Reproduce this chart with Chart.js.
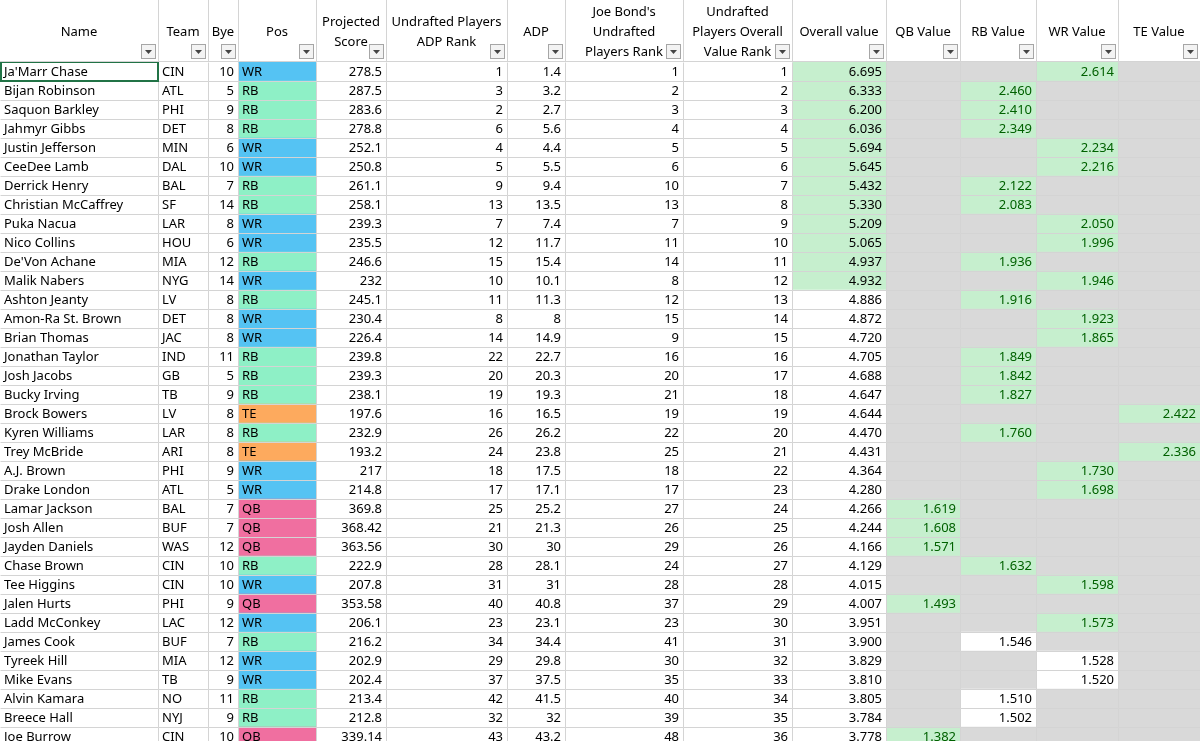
<!DOCTYPE html>
<html><head><meta charset="utf-8">
<script src="https://cdn.jsdelivr.net/npm/chart.js@4"></script>
<style>html,body{margin:0;padding:0;overflow:hidden;background:#fff}#wrap{width:1200px;height:746px}</style>
</head><body><div id="wrap"><canvas id="c"></canvas></div>
<script>
const names=["Ja'Marr Chase","Bijan Robinson","Saquon Barkley","Jahmyr Gibbs","Justin Jefferson","CeeDee Lamb","Derrick Henry","Christian McCaffrey","Puka Nacua","Nico Collins","De'Von Achane","Malik Nabers","Ashton Jeanty","Amon-Ra St. Brown","Brian Thomas","Jonathan Taylor","Josh Jacobs","Bucky Irving","Brock Bowers","Kyren Williams","Trey McBride","A.J. Brown","Drake London","Lamar Jackson","Josh Allen","Jayden Daniels","Chase Brown","Tee Higgins","Jalen Hurts","Ladd McConkey","James Cook","Tyreek Hill","Mike Evans","Alvin Kamara","Breece Hall","Joe Burrow"];
const teams=["CIN","ATL","PHI","DET","MIN","DAL","BAL","SF","LAR","HOU","MIA","NYG","LV","DET","JAC","IND","GB","TB","LV","LAR","ARI","PHI","ATL","BAL","BUF","WAS","CIN","CIN","PHI","LAC","BUF","MIA","TB","NO","NYJ","CIN"];
const byes=[10,5,9,8,6,10,7,14,8,6,12,14,8,8,8,11,5,9,8,8,8,9,5,7,7,12,10,10,9,12,7,12,9,11,9,10];
const positions=["WR","RB","RB","RB","WR","WR","RB","RB","WR","WR","RB","WR","RB","WR","WR","RB","RB","RB","TE","RB","TE","WR","WR","QB","QB","QB","RB","WR","QB","WR","RB","WR","WR","RB","RB","QB"];
const projected=["278.5","287.5","283.6","278.8","252.1","250.8","261.1","258.1","239.3","235.5","246.6","232","245.1","230.4","226.4","239.8","239.3","238.1","197.6","232.9","193.2","217","214.8","369.8","368.42","363.56","222.9","207.8","353.58","206.1","216.2","202.9","202.4","213.4","212.8","339.14"];
const adpRank=[1,3,2,6,4,5,9,13,7,12,15,10,11,8,14,22,20,19,16,26,24,18,17,25,21,30,28,31,40,23,34,29,37,42,32,43];
const adp=["1.4","3.2","2.7","5.6","4.4","5.5","9.4","13.5","7.4","11.7","15.4","10.1","11.3","8","14.9","22.7","20.3","19.3","16.5","26.2","23.8","17.5","17.1","25.2","21.3","30","28.1","31","40.8","23.1","34.4","29.8","37.5","41.5","32","43.2"];
const joeRank=[1,2,3,4,5,6,10,13,7,11,14,8,12,15,9,16,20,21,19,22,25,18,17,27,26,29,24,28,37,23,41,30,35,40,39,48];
const valueRank=[1,2,3,4,5,6,7,8,9,10,11,12,13,14,15,16,17,18,19,20,21,22,23,24,25,26,27,28,29,30,31,32,33,34,35,36];
const overall=["6.695","6.333","6.200","6.036","5.694","5.645","5.432","5.330","5.209","5.065","4.937","4.932","4.886","4.872","4.720","4.705","4.688","4.647","4.644","4.470","4.431","4.364","4.280","4.266","4.244","4.166","4.129","4.015","4.007","3.951","3.900","3.829","3.810","3.805","3.784","3.778"];
const posValue=["2.614","2.460","2.410","2.349","2.234","2.216","2.122","2.083","2.050","1.996","1.936","1.946","1.916","1.923","1.865","1.849","1.842","1.827","2.422","1.760","2.336","1.730","1.698","1.619","1.608","1.571","1.632","1.598","1.493","1.573","1.546","1.528","1.520","1.510","1.502","1.382"];
const overallTop=[1,1,1,1,1,1,1,1,1,1,1,1,0,0,0,0,0,0,0,0,0,0,0,0,0,0,0,0,0,0,0,0,0,0,0,0];
const valueTop=[1,1,1,1,1,1,1,1,1,1,1,1,1,1,1,1,1,1,1,1,1,1,1,1,1,1,1,1,1,1,0,0,0,0,0,1];
const headers=[["Name"],["Team"],["Bye"],["Pos"],["Projected","Score"],["Undrafted Players","ADP Rank"],["ADP"],["Joe Bond's","Undrafted","Players Rank"],["Undrafted","Players Overall","Value Rank"],["Overall value"],["QB Value"],["RB Value"],["WR Value"],["TE Value"]];

// layout
const colWidths=[158,50,30,78,70,121,58,118,109,94,74,76,82,82];
const align=['left','left','right','left','right','right','right','right','right','right','right','right','right','right'];
const posCol={QB:10,RB:11,WR:12,TE:13};
const posColor={WR:'#55c3f3',RB:'#8ef0c6',TE:'#fdaa5e',QB:'#f06fa0'};
const GREEN='#c6efce', GREY='#d9d9d9';

function cellText(c,i){
  switch(c){case 0:return names[i];case 1:return teams[i];case 2:return String(byes[i]);case 3:return positions[i];
  case 4:return projected[i];case 5:return String(adpRank[i]);case 6:return adp[i];case 7:return String(joeRank[i]);
  case 8:return String(valueRank[i]);case 9:return overall[i];}
  return posCol[positions[i]]===c?posValue[i]:'';
}
function cellBg(c,i){
  if(c===3)return posColor[positions[i]];
  if(c===9)return overallTop[i]?GREEN:'#ffffff';
  if(c>=10){ if(posCol[positions[i]]!==c)return GREY; return valueTop[i]?GREEN:'#ffffff';}
  return '#ffffff';
}
function cellColor(c,i){ if(c>=10&&valueTop[i])return '#006100'; return '#000'; }

const datasets=colWidths.map((w,c)=>({data:names.map(()=>w),backgroundColor:ctx=>cellBg(c,ctx.dataIndex),borderWidth:0,barPercentage:1,categoryPercentage:1}));

const FONT='13px "Noto Sans"';
const tablePlugin={id:'table',afterDatasetsDraw(chart){
  const ctx=chart.ctx; ctx.save();
  const metas=chart.data.datasets.map((d,c)=>chart.getDatasetMeta(c));
  // grid lines
  ctx.strokeStyle='#d4d4d4'; ctx.lineWidth=1;
  metas.forEach((m,c)=>{m.data.forEach((b,i)=>{
    const x0=Math.round(b.base)+0.5,x1=Math.round(b.x)+0.5,y0=Math.round(b.y-b.height/2)+0.5,y1=Math.round(b.y+b.height/2)+0.5;
    ctx.beginPath();ctx.moveTo(x0,y1);ctx.lineTo(x1,y1);ctx.moveTo(x1,y0);ctx.lineTo(x1,y1);ctx.stroke();
  });});
  // text
  ctx.font=FONT; ctx.textBaseline='middle';
  metas.forEach((m,c)=>{m.data.forEach((b,i)=>{
    const t=cellText(c,i); if(!t)return;
    ctx.fillStyle=cellColor(c,i); ctx.textAlign=align[c];
    const x=align[c]==='left'?b.base+4:b.x-4;
    ctx.fillText(t,x,b.y+1);
  });});
  // selected cell
  const s=metas[0].data[0]; ctx.strokeStyle='#217346'; ctx.lineWidth=2;
  ctx.strokeRect(s.base+1,s.y-s.height/2,s.x-s.base-1,s.height);
  // header
  const top=0,bottom=chart.chartArea.top;
  ctx.fillStyle='#fff';ctx.fillRect(0,0,chart.width,bottom);
  ctx.strokeStyle='#d4d4d4';ctx.lineWidth=1;
  ctx.beginPath();ctx.moveTo(0,bottom-0.5);ctx.lineTo(chart.width,bottom-0.5);ctx.stroke();
  metas.forEach((m,c)=>{
    const b=m.data[0]; const x0=b.base,x1=b.x;
    ctx.beginPath();ctx.moveTo(Math.round(x1)+0.5,0);ctx.lineTo(Math.round(x1)+0.5,bottom);ctx.stroke();
    const lines=headers[c]; ctx.fillStyle='#000';ctx.textAlign='center';ctx.font=FONT;
    const cx=(x0+x1)/2, lh=20, y0=(bottom)/2-(lines.length-1)*lh/2+1;
    lines.forEach((l,k)=>ctx.fillText(l,cx,y0+k*lh));
    // filter button
    const bx=x1-17,by=bottom-18;
    ctx.fillStyle='#f3f3f3';ctx.fillRect(bx,by,15,15);
    ctx.strokeStyle='#a6a6a6';ctx.strokeRect(bx+0.5,by+0.5,14,14);
    ctx.fillStyle='#444';ctx.beginPath();ctx.moveTo(bx+4,by+6);ctx.lineTo(bx+11,by+6);ctx.lineTo(bx+7.5,by+10);ctx.closePath();ctx.fill();
    ctx.strokeStyle='#d4d4d4';
  });
  ctx.restore();
}};

new Chart(document.getElementById('c'),{type:'bar',data:{labels:names,datasets},
  options:{indexAxis:'y',responsive:true,maintainAspectRatio:false,animation:false,
    layout:{padding:{top:62,left:0,right:0,bottom:0}},
    plugins:{legend:{display:false},tooltip:{enabled:false}},
    scales:{x:{stacked:true,min:0,max:colWidths.reduce((a,b)=>a+b,0),display:false},
            y:{stacked:true,display:false,offset:true}}},
  plugins:[tablePlugin]});
</script></body></html>
